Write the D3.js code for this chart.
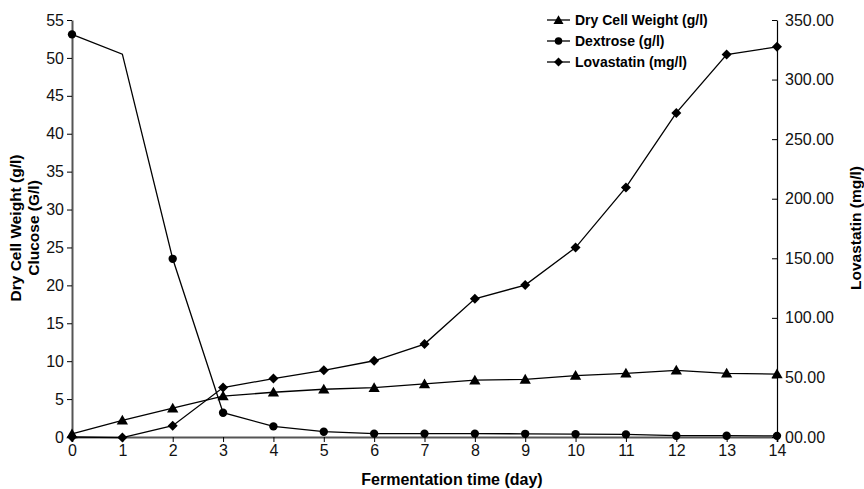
<!DOCTYPE html>
<html>
<head>
<meta charset="utf-8">
<script src="https://cdnjs.cloudflare.com/ajax/libs/d3/7.8.5/d3.min.js"></script>
<style>
  body { margin: 0; background: #fff; }
  text { font-family: "Liberation Sans", Arial, sans-serif; }
  .tick text { font-size: 16px; fill: #111; }
  .title { font-size: 15.5px; font-weight: bold; }
  .legend text { font-size: 14px; font-weight: bold; }
</style>
</head>
<body>
<div id="chart"></div>
<script>
var width = 864;
var height = 489;

// data
var days = [0, 1, 2, 3, 4, 5, 6, 7, 8, 9, 10, 11, 12, 13, 14];
var dryCell = [0.4, 2.2, 3.8, 5.4, 5.9, 6.3, 6.5, 7.0, 7.5, 7.6, 8.1, 8.4, 8.8, 8.4, 8.3];
var dextrose = [53.1, 50.5, 23.5, 3.2, 1.4, 0.7, 0.45, 0.45, 0.45, 0.42, 0.38, 0.35, 0.17, 0.17, 0.15];
var lovastatin = [0, -0.5, 9.5, 41.5, 49, 56, 64, 78, 116, 127.5, 159, 209.5, 272, 321, 327.5];
var dextroseNoMarker = [1]; // day 1 has no marker in the original
var leftTicks = [0, 5, 10, 15, 20, 25, 30, 35, 40, 45, 50, 55];
var rightTicks = [0, 50, 100, 150, 200, 250, 300, 350];
var seriesNames = ["Dry Cell Weight (g/l)", "Dextrose (g/l)", "Lovastatin (mg/l)"];

var x = d3.scaleLinear().domain([0, 14]).range([72, 777]);
var yL = d3.scaleLinear().domain([0, 55]).range([437, 20]);
var yR = d3.scaleLinear().domain([0, 350]).range([437, 20]);

var svg = d3.select("#chart").append("svg")
    .attr("width", width)
    .attr("height", height);

// axes
var xAxis = svg.append("g")
    .attr("transform", "translate(0,437)")
    .call(d3.axisBottom(x).tickValues(days).tickSize(5).tickPadding(3).tickFormat(d3.format("d")));
xAxis.select(".domain").attr("stroke", "#555").attr("stroke-width", 2);

var leftAxis = svg.append("g")
    .attr("transform", "translate(72,0)")
    .call(d3.axisLeft(yL).tickValues(leftTicks).tickSize(5).tickPadding(3).tickSizeOuter(0));
leftAxis.select(".domain").attr("stroke", "#555").attr("stroke-width", 2);

var rightAxis = svg.append("g")
    .attr("transform", "translate(777,0)")
    .call(d3.axisRight(yR).tickValues(rightTicks).tickSize(-5).tickPadding(8).tickSizeOuter(0)
        .tickFormat(function(d) { return d === 0 ? "00.00" : d3.format(".2f")(d); }));
rightAxis.select(".domain").attr("stroke", "#000").attr("stroke-width", 1.2);

svg.selectAll(".tick line").attr("stroke", "#000");

// axis titles
svg.append("text").attr("class", "title")
    .attr("x", 452).attr("y", 485)
    .attr("text-anchor", "middle")
    .style("font-size", "16px")
    .text("Fermentation time (day)");

svg.append("text").attr("class", "title")
    .attr("transform", "translate(20.5,228) rotate(-90)")
    .attr("text-anchor", "middle")
    .text("Dry Cell Weight (g/l)");

svg.append("text").attr("class", "title")
    .attr("transform", "translate(38.5,228) rotate(-90)")
    .attr("text-anchor", "middle")
    .text("Clucose (G/l)");

svg.append("text").attr("class", "title")
    .attr("transform", "translate(861,228) rotate(-90)")
    .attr("text-anchor", "middle")
    .text("Lovastatin (mg/l)");

// series
var series = [
    { name: seriesNames[0], values: dryCell, y: yL, symbol: d3.symbolTriangle, size: 55, rot: 0, skip: [] },
    { name: seriesNames[1], values: dextrose, y: yL, symbol: d3.symbolCircle, size: 55, rot: 0, skip: dextroseNoMarker },
    { name: seriesNames[2], values: lovastatin, y: yR, symbol: d3.symbolSquare, size: 50, rot: 45, skip: [] }
];

series.forEach(function(s) {
    var pts = days.map(function(d, i) { return [d, s.values[i]]; });
    var line = d3.line()
        .x(function(p) { return x(p[0]); })
        .y(function(p) { return s.y(p[1]); });

    svg.append("path")
        .datum(pts)
        .attr("fill", "none")
        .attr("stroke", "#000")
        .attr("stroke-width", 1.3)
        .attr("d", line);

    svg.selectAll(null)
        .data(pts.filter(function(p, i) { return s.skip.indexOf(i) < 0; }))
        .enter()
        .append("path")
        .attr("transform", function(p) {
            var dy = s.symbol === d3.symbolTriangle ? 1 : 0;
            return "translate(" + x(p[0]) + "," + (s.y(p[1]) + dy) + ") rotate(" + s.rot + ")";
        })
        .attr("d", d3.symbol().type(s.symbol).size(s.size))
        .attr("fill", "#000");
});

// legend
var legend = svg.append("g").attr("class", "legend");
series.forEach(function(s, i) {
    var ly = 20 + i * 21;
    legend.append("line")
        .attr("x1", 547).attr("x2", 570)
        .attr("y1", ly).attr("y2", ly)
        .attr("stroke", "#000").attr("stroke-width", 1.3);
    legend.append("path")
        .attr("transform", "translate(558.5," + (ly + (i === 0 ? 1 : 0)) + ") rotate(" + s.rot + ")")
        .attr("d", d3.symbol().type(s.symbol).size(s.size * 0.8))
        .attr("fill", "#000");
    legend.append("text")
        .attr("x", 575).attr("y", ly)
        .attr("dy", "0.35em")
        .text(s.name);
});
</script>
</body>
</html>
